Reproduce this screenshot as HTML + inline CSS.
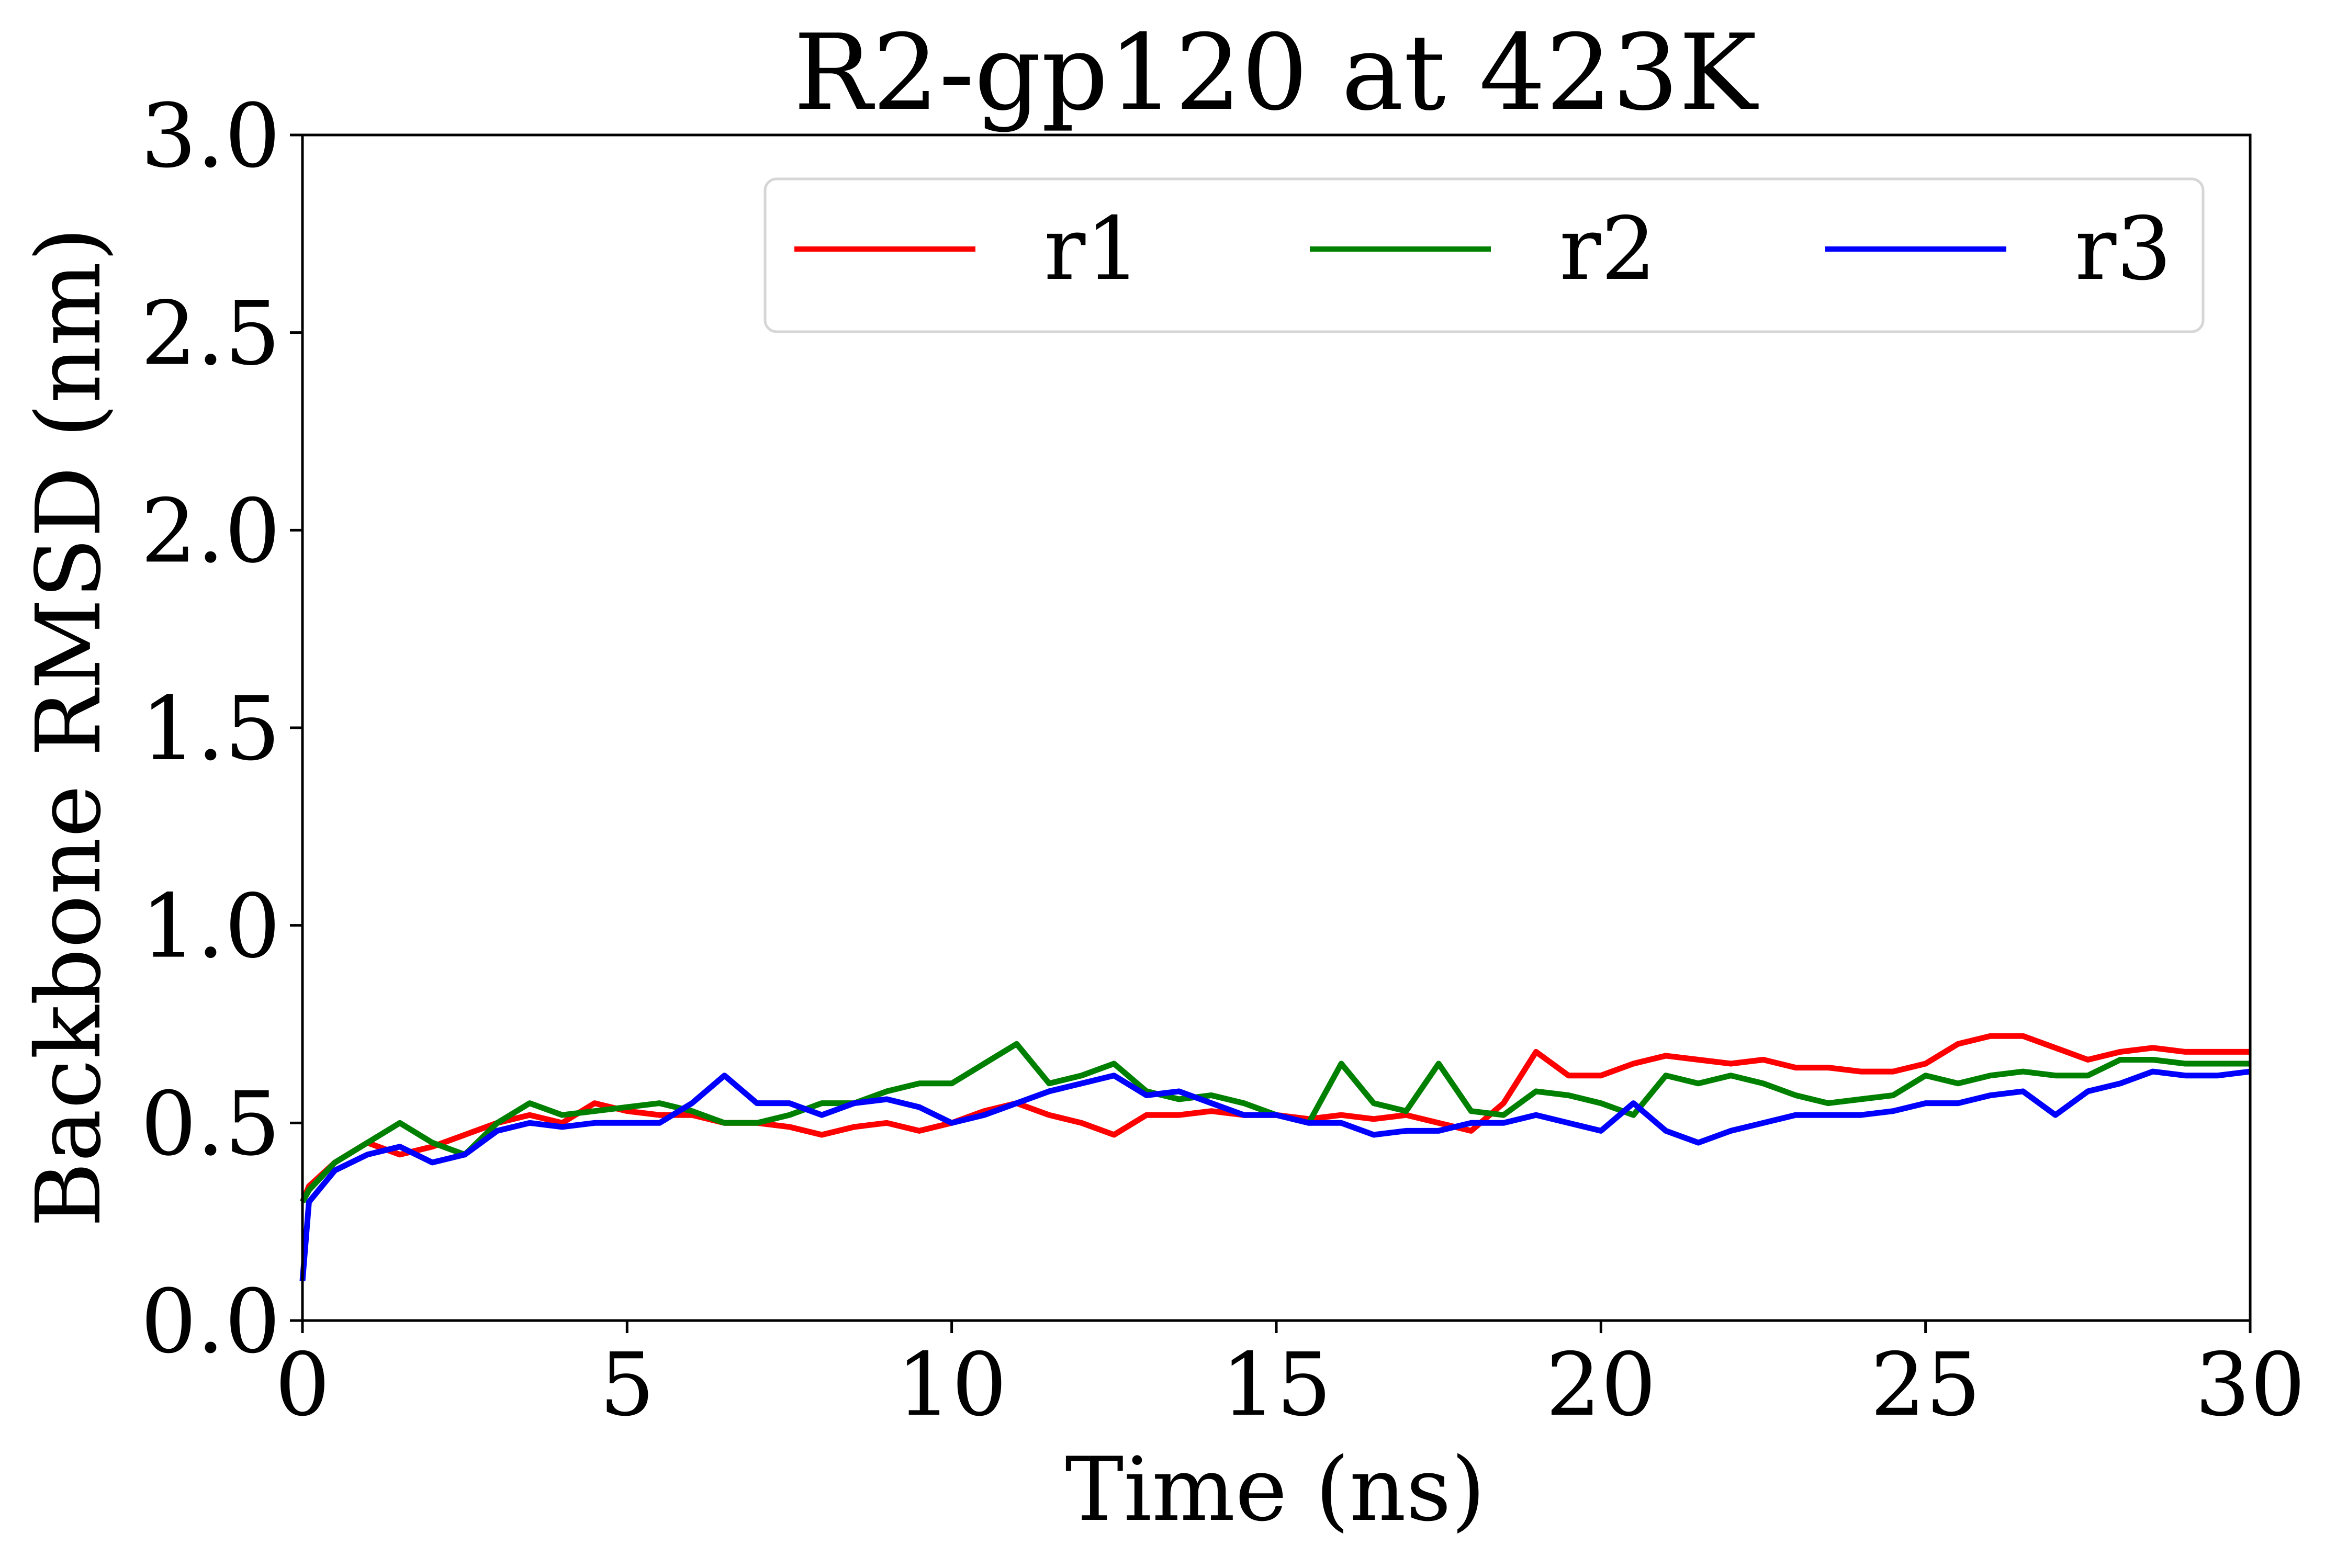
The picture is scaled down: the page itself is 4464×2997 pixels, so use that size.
<!DOCTYPE html>
<html><head><meta charset="utf-8"><style>
html,body{margin:0;padding:0;background:#fff;}
svg{display:block;font-family:"DejaVu Serif","Liberation Serif",serif;}
</style></head><body>
<svg id="chart" xmlns="http://www.w3.org/2000/svg" width="4464" height="2997" viewBox="0 0 4464 2997">
<rect width="4464" height="2997" fill="#fff"/>
<text x="2437" y="208" font-size="200" text-anchor="middle">R2-gp120 at 423K</text>
<g id="series"></g>
<g id="axes"></g>
<text x="2437" y="2905" font-size="168" text-anchor="middle">Time (ns)</text>
<text transform="translate(190,1390) rotate(-90)" font-size="170" text-anchor="middle">Backbone RMSD (nm)</text>
<g>
<rect x="1462" y="342" width="2748" height="292" rx="22" fill="#fff" fill-opacity="0.8" stroke="#d6d6d6" stroke-width="5"/>
<line x1="1518" y1="476" x2="1864" y2="476" stroke="#ff0000" stroke-width="10"/>
<text x="1995" y="533" font-size="166">r1</text>
<line x1="2503" y1="476" x2="2849" y2="476" stroke="#008000" stroke-width="10"/>
<text x="2980" y="533" font-size="166">r2</text>
<line x1="3488" y1="476" x2="3834" y2="476" stroke="#0000ff" stroke-width="10"/>
<text x="3965" y="533" font-size="166">r3</text>
</g>
</svg>
<script>
const times=[0,0.1,0.5,1,1.5,2,2.5,3,3.5,4,4.5,5,5.5,6,6.5,7,7.5,8,8.5,9,9.5,10,10.5,11,11.5,12,12.5,13,13.5,14,14.5,15,15.5,16,16.5,17,17.5,18,18.5,19,19.5,20,20.5,21,21.5,22,22.5,23,23.5,24,24.5,25,25.5,26,26.5,27,27.5,28,28.5,29,29.5,30];
const r1=[0.30,0.34,0.40,0.45,0.42,0.44,0.47,0.50,0.52,0.50,0.55,0.53,0.52,0.52,0.50,0.50,0.49,0.47,0.49,0.50,0.48,0.50,0.53,0.55,0.52,0.50,0.47,0.52,0.52,0.53,0.52,0.52,0.51,0.52,0.51,0.52,0.50,0.48,0.55,0.68,0.62,0.62,0.65,0.67,0.66,0.65,0.66,0.64,0.64,0.63,0.63,0.65,0.70,0.72,0.72,0.69,0.66,0.68,0.69,0.68,0.68,0.68];
const r2=[0.30,0.33,0.40,0.45,0.50,0.45,0.42,0.50,0.55,0.52,0.53,0.54,0.55,0.53,0.50,0.50,0.52,0.55,0.55,0.58,0.60,0.60,0.65,0.70,0.60,0.62,0.65,0.58,0.56,0.57,0.55,0.52,0.50,0.65,0.55,0.53,0.65,0.53,0.52,0.58,0.57,0.55,0.52,0.62,0.60,0.62,0.60,0.57,0.55,0.56,0.57,0.62,0.60,0.62,0.63,0.62,0.62,0.66,0.66,0.65,0.65,0.65];
const r3=[0.10,0.30,0.38,0.42,0.44,0.40,0.42,0.48,0.50,0.49,0.50,0.50,0.50,0.55,0.62,0.55,0.55,0.52,0.55,0.56,0.54,0.50,0.52,0.55,0.58,0.60,0.62,0.57,0.58,0.55,0.52,0.52,0.50,0.50,0.47,0.48,0.48,0.50,0.50,0.52,0.50,0.48,0.55,0.48,0.45,0.48,0.50,0.52,0.52,0.52,0.53,0.55,0.55,0.57,0.58,0.52,0.58,0.60,0.63,0.62,0.62,0.63];
const xTicks=[0,5,10,15,20,25,30];
const yTicks=[0.0,0.5,1.0,1.5,2.0,2.5,3.0];
const L=578,R=4300,T=258,B=2524;
function xs(v){return L+(v-0)/(30-0)*(R-L);}
function ys(v){return B-(v-0)/(3-0)*(B-T);}
const NS="http://www.w3.org/2000/svg";
const sg=document.getElementById('series');
const ax=document.getElementById('axes');
function mk(tag,attrs,parent){const e=document.createElementNS(NS,tag);for(const k in attrs)e.setAttribute(k,attrs[k]);parent.appendChild(e);return e;}
const series=[[r1,'#ff0000','r1'],[r2,'#008000','r2'],[r3,'#0000ff','r3']];
series.forEach(s=>{
  const d=s[0].map((v,i)=>(i?'L':'M')+xs(times[i]).toFixed(1)+','+ys(v).toFixed(1)).join('');
  const p=mk('path',{d:d,fill:'none',stroke:s[1],'stroke-width':11,'stroke-linejoin':'round'},sg);
  
  
});
const frame=mk('rect',{x:L,y:T,width:R-L,height:B-T,fill:'none',stroke:'#000','stroke-width':5},ax);


xTicks.forEach(v=>{
  const x=xs(v);
  const t=mk('line',{x1:x,y1:B,x2:x,y2:B+24,stroke:'#000','stroke-width':5},ax);
  
  
  const l=mk('text',{x:x,y:B+180,'font-size':166,'text-anchor':'middle'},ax);
  l.textContent=String(v);
  
  
});
yTicks.forEach(v=>{
  const y=ys(v);
  const t=mk('line',{x1:L-24,y1:y,x2:L,y2:y,stroke:'#000','stroke-width':5},ax);
  
  
  const l=mk('text',{x:L-42,y:y+60,'font-size':168,'text-anchor':'end'},ax);
  l.textContent=v.toFixed(1);
  
  
});
</script>
</body></html>
